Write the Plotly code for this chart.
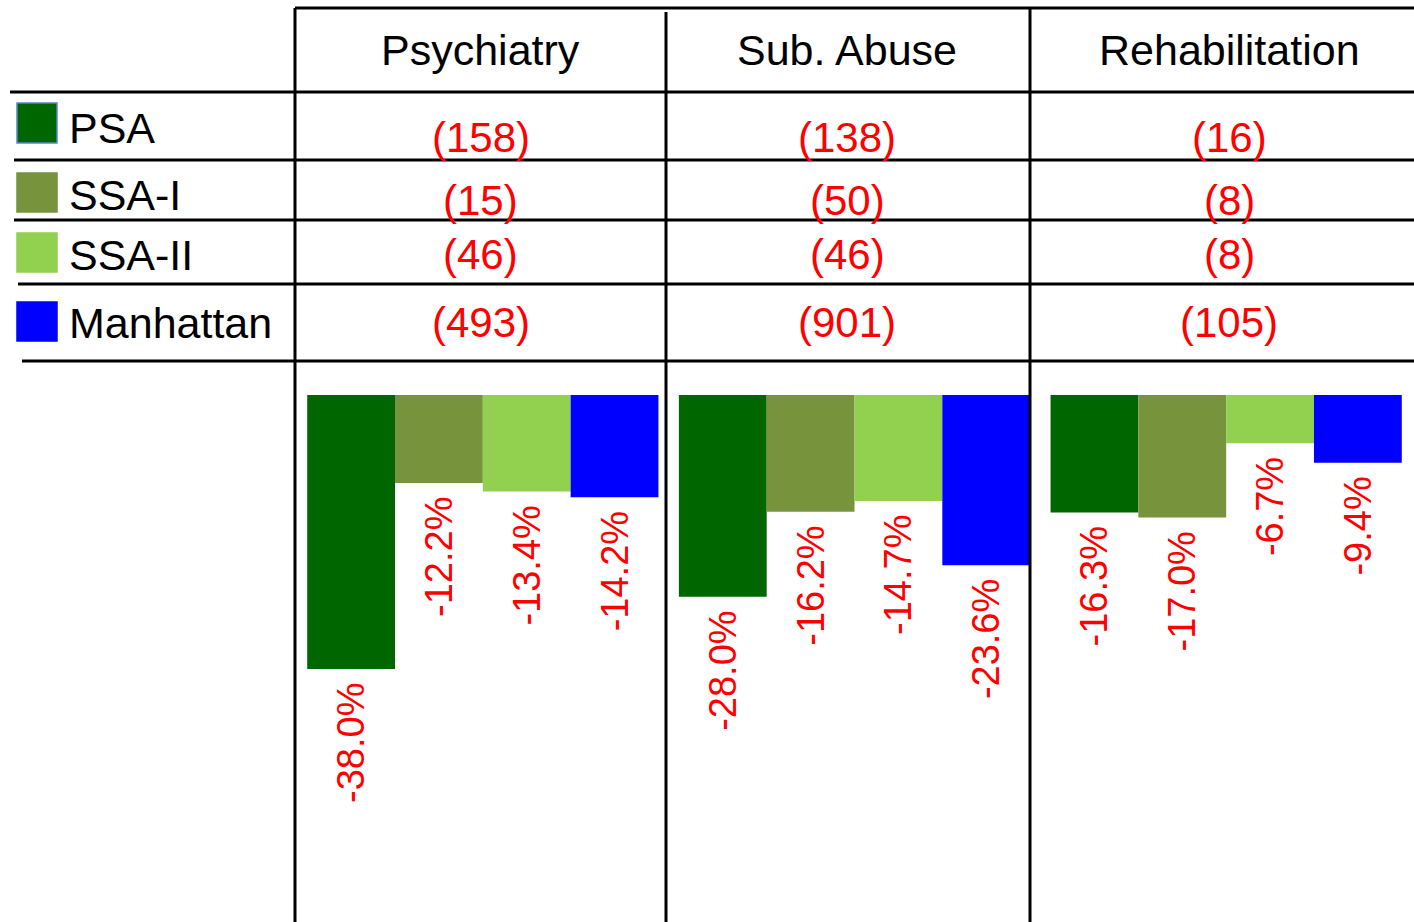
import plotly.graph_objects as go

categories = ["Psychiatry", "Sub. Abuse", "Rehabilitation"]
groups = ["PSA", "SSA-I", "SSA-II", "Manhattan"]
colors = ["#006600", "#77933C", "#92D050", "#0000FF"]

psa_n = [158, 138, 16]
ssa1_n = [15, 50, 8]
ssa2_n = [46, 46, 8]
manhattan_n = [493, 901, 105]

psa_pct = [-38.0, -28.0, -16.3]
ssa1_pct = [-12.2, -16.2, -17.0]
ssa2_pct = [-13.4, -14.7, -6.7]
manhattan_pct = [-14.2, -23.6, -9.4]

counts = [psa_n, ssa1_n, ssa2_n, manhattan_n]
pcts = [psa_pct, ssa1_pct, ssa2_pct, manhattan_pct]

W, H = 1414, 922
FONT = "Liberation Sans, Arial, sans-serif"


def px(p):
    return p / W


def py(p):
    return 1 - p / H


fig = go.Figure()
for name, vals, col in zip(groups, pcts, colors):
    fig.add_bar(
        x=categories, y=vals, name=name,
        marker=dict(color=col, line=dict(width=0)),
        text=[f"{v:.1f}%\u00a0" for v in vals],
        textposition="outside", textangle=-90, constraintext="none",
        textfont=dict(color="red", size=38, family=FONT),
        cliponaxis=False, hoverinfo="skip",
    )

# table grid
shapes = []
line = dict(color="black", width=3)
for y, x0 in [(8, 295), (92, 10), (160, 14), (220, 14), (284, 18), (361, 22)]:
    shapes.append(dict(type="line", xref="paper", yref="paper",
                       x0=px(x0), x1=1, y0=py(y), y1=py(y), line=line))
for x, y0 in [(295, 8), (666, 12), (1030, 8)]:
    shapes.append(dict(type="line", xref="paper", yref="paper",
                       x0=px(x), x1=px(x), y0=py(y0), y1=0, line=line))

# text centres of the three table columns
col_x = [481, 847, 1229]

annotations = []
for c, cx in zip(categories, col_x):
    annotations.append(dict(x=px(cx), xref="paper", y=py(50), yref="paper", text=c,
                            showarrow=False, xanchor="center", yanchor="middle",
                            font=dict(size=43, color="black", family=FONT)))

row_text_y = [137, 200, 254, 322]
label_y = [128, 195, 255, 323]
square_y = [(103, 143), (173, 212), (233, 272), (302, 341)]
for i, name in enumerate(groups):
    y0, y1 = square_y[i]
    shapes.append(dict(type="rect", xref="paper", yref="paper",
                       x0=px(17), x1=px(57), y0=py(y1), y1=py(y0),
                       fillcolor=colors[i],
                       line=dict(color="#5B87C5" if i == 0 else colors[i], width=1.5)))
    annotations.append(dict(x=px(67), xref="paper", y=py(label_y[i]), yref="paper",
                            text=name, showarrow=False, xanchor="left", yanchor="middle",
                            font=dict(size=43, color="black", family=FONT)))
    for cx, n in zip(col_x, counts[i]):
        annotations.append(dict(x=px(cx), xref="paper", y=py(row_text_y[i]), yref="paper",
                                text=f"({n})", showarrow=False,
                                xanchor="center", yanchor="middle",
                                font=dict(size=42, color="red", family=FONT)))

fig.update_layout(
    width=W, height=H,
    margin=dict(l=0, r=0, t=0, b=0),
    paper_bgcolor="white", plot_bgcolor="white",
    barmode="group", bargap=0.055, bargroupgap=0,
    showlegend=False,
    shapes=shapes, annotations=annotations,
    xaxis=dict(domain=[px(297), px(1412)], range=[-0.5, 2.5],
               showticklabels=False, showgrid=False, zeroline=False, showline=False),
    yaxis=dict(domain=[0, py(395)], range=[-73.1, 0],
               showticklabels=False, showgrid=False, zeroline=False, showline=False),
)

# page body has a default 8px margin; drop it so the figure fills the window
fig.write_html("out.html", config={"displayModeBar": False},
               post_script="document.body.style.margin = '0';")
